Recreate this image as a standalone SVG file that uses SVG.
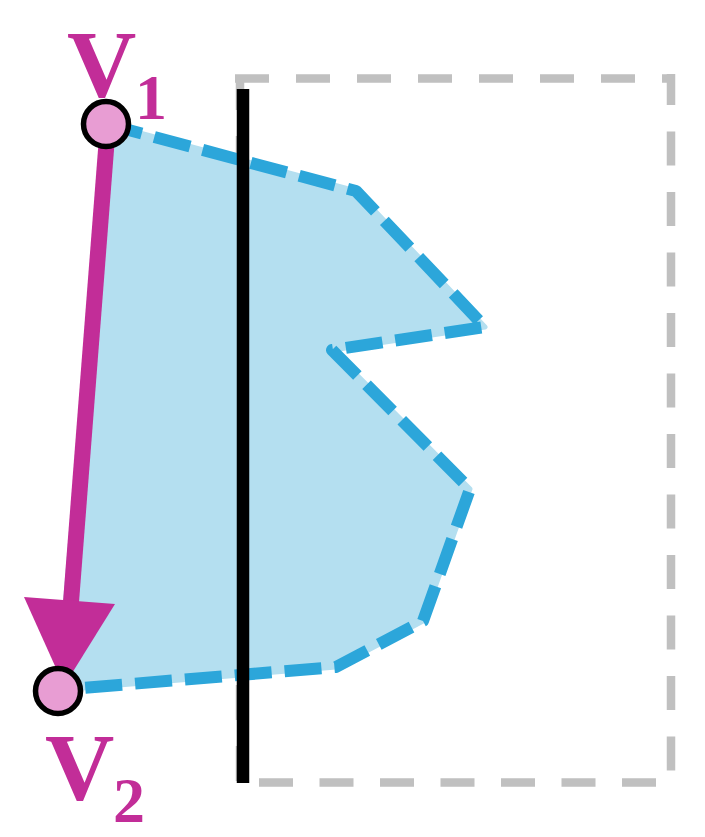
<svg xmlns="http://www.w3.org/2000/svg" width="705" height="837" viewBox="0 0 705 837">
  <style>
    .lbl { font-family: "Liberation Serif", "Times New Roman", serif; font-weight: bold; fill: #c22d98; }
    .big { font-size: 96px; }
    .sub { font-size: 64px; }
    .frame { stroke: #c0c0c0; stroke-width: 8.5; fill: none; }
    .vert { fill: #e89dd3; stroke: #000; stroke-width: 5.5; }
  </style>
  <rect width="705" height="837" fill="#ffffff"/>
  <g id="frame">
    <line class="frame" x1="235" y1="78.5" x2="675" y2="78.5" stroke-dasharray="34 27"/>
    <line class="frame" x1="671" y1="74" x2="671" y2="787" stroke-dasharray="34 26.5" stroke-dashoffset="3"/>
    <line class="frame" x1="236" y1="782.5" x2="671" y2="782.5" stroke-dasharray="34 26.5" stroke-dashoffset="37.5"/>
    <line class="frame" x1="240" y1="75" x2="240" y2="786" stroke-dasharray="35 26"/>
  </g>
  <g id="region">
    <polygon points="106,124 356,191 485,327 332,350 470,489 423,621 336,667 58,690" fill="#b4dff0" stroke="#b4dff0" stroke-width="5" stroke-linejoin="round"/>
    <polyline points="106,124 356,191 485,327 332,350 470,489 423,621 336,667 58,690" fill="none" stroke="#2ca6da" stroke-width="12" stroke-dasharray="37 13" stroke-linejoin="round"/>
  </g>
  <g id="divider">
    <line x1="243" y1="89" x2="243" y2="783" stroke="#000" stroke-width="12.5"/>
  </g>
  <g id="connectors">
    <line x1="108" y1="124" x2="71" y2="602" stroke="#c22d98" stroke-width="16"/>
    <polygon points="24,597 115,604 64,686" fill="#c22d98"/>
  </g>
  <g id="v1">
    <circle class="vert" cx="106" cy="124" r="22.5"/>
    <text class="lbl big" x="67" y="97">V</text>
    <text class="lbl sub" x="135" y="119">1</text>
  </g>
  <g id="v2">
    <circle class="vert" cx="58" cy="691" r="22.5"/>
    <text class="lbl big" x="45" y="800">V</text>
    <text class="lbl sub" x="113" y="822">2</text>
  </g>
</svg>
